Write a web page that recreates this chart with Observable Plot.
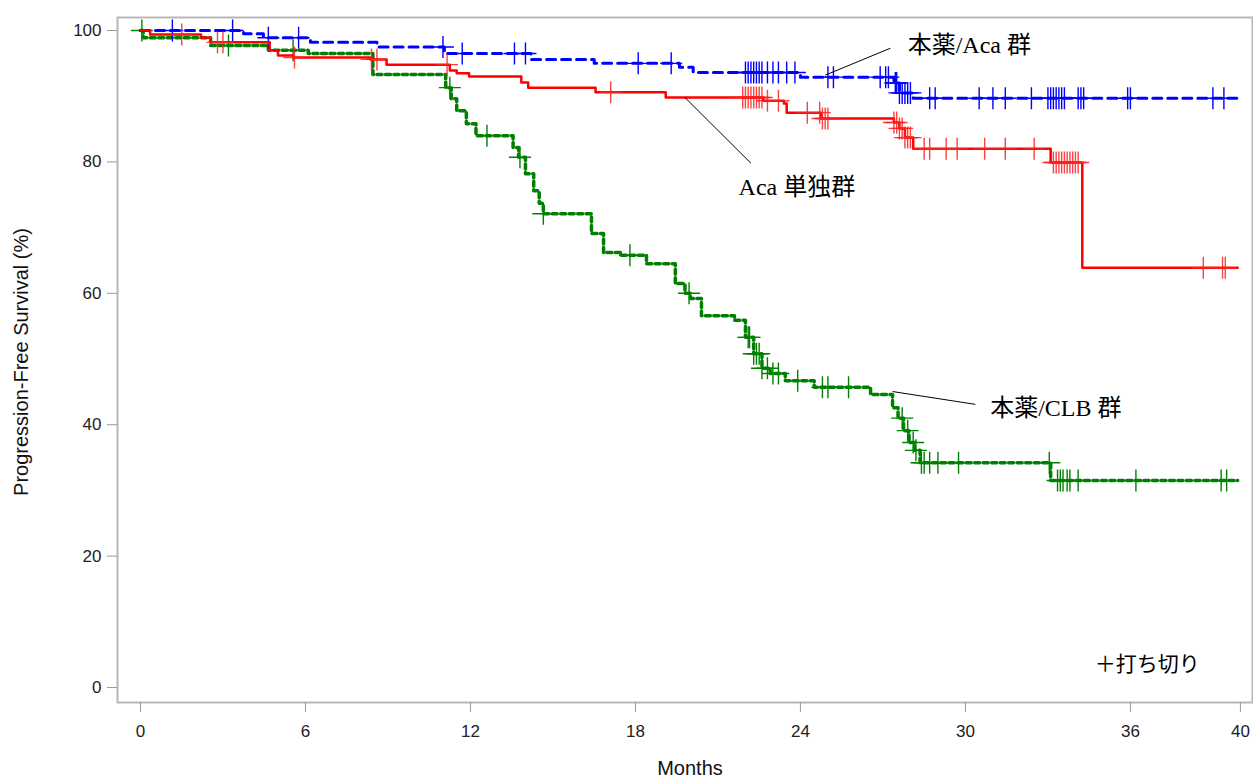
<!DOCTYPE html>
<html>
<head>
<meta charset="utf-8">
<script src="https://cdn.jsdelivr.net/npm/d3@7"></script>
<script src="https://cdn.jsdelivr.net/npm/@observablehq/plot@0.6"></script>
<style>
  html, body { margin: 0; padding: 0; background: #fff; }
</style>
</head>
<body>
<div id="chart"></div>
<script>
// ---- Data ----
const xTicks = [0, 6, 12, 18, 24, 30, 36, 40];
const yTicks = [0, 20, 40, 60, 80, 100];
const xLabel = "Months";
const yLabel = "Progression-Free Survival (%)";

// 本薬/Aca 群 (blue, dashed)
const blueTime = [0, 3.75, 4.47, 6.18, 8.6, 11.05, 14.2, 16.5, 19.6, 20.1, 24.0, 27.4, 27.6, 28.1, 39.9];
const blueSurv = [100, 99.5, 98.9, 98.2, 97.5, 96.5, 95.6, 95.0, 94.4, 93.6, 92.9, 92.0, 90.5, 89.7, 89.7];
const blueCens = [1.16, 3.35, 4.65, 5.75, 11.0, 11.7, 13.6, 14.0, 18.1, 19.3, 22.0, 22.1, 22.2, 22.3, 22.4, 22.5, 22.6, 22.8, 23.0, 23.2, 23.5, 23.8, 25.0, 25.2, 26.9, 27.1, 27.2, 27.45, 27.5, 27.6, 27.7, 27.8, 27.9, 28.0, 28.7, 28.9, 30.5, 31.0, 31.45, 32.4, 33.0, 33.1, 33.2, 33.3, 33.4, 33.5, 33.6, 34.1, 34.2, 34.3, 35.9, 36.0, 39.0, 39.4];

// Aca 単独群 (red, solid)
const redTime = [0, 0.35, 2.2, 2.55, 4.7, 5.0, 5.55, 8.35, 8.95, 11.25, 11.5, 11.95, 13.85, 14.1, 16.55, 19.1, 22.65, 23.4, 23.5, 24.75, 27.4, 27.6, 27.8, 28.1, 33.1, 34.25, 39.9];
const redSurv = [100, 99.4, 98.9, 98.2, 97.0, 96.2, 95.9, 95.6, 94.8, 93.9, 93.5, 93.0, 92.1, 91.3, 90.6, 89.8, 89.3, 88.9, 87.5, 86.6, 86.0, 85.1, 83.7, 82.0, 79.9, 63.9, 63.9];
const redCens = [1.5, 2.8, 3.0, 5.6, 8.4, 8.6, 11.15, 17.1, 21.9, 22.0, 22.1, 22.2, 22.3, 22.4, 22.5, 22.6, 22.8, 23.2, 24.25, 24.7, 24.8, 24.9, 25.0, 27.4, 27.5, 27.6, 27.7, 27.8, 27.9, 28.0, 28.5, 28.7, 29.3, 29.7, 30.7, 31.45, 32.5, 33.2, 33.3, 33.4, 33.5, 33.6, 33.7, 33.8, 33.9, 34.0, 34.1, 38.65, 39.35, 39.45];

// 本薬/CLB 群 (green, dotted)
const greenTime = [0, 0.1, 2.55, 4.65, 6.1, 8.45, 11.1, 11.3, 11.5, 11.85, 12.2, 13.55, 13.75, 14.0, 14.3, 14.5, 14.65, 16.4, 16.84, 17.45, 18.4, 19.45, 19.8, 20.0, 20.4, 21.6, 22.0, 22.3, 22.6, 22.9, 23.45, 24.5, 26.55, 27.35, 27.55, 27.75, 27.95, 28.15, 28.35, 33.1, 39.9];
const greenSurv = [100, 98.9, 97.7, 97.0, 96.5, 93.3, 91.3, 89.6, 87.8, 85.8, 84.0, 82.2, 80.7, 78.2, 75.6, 73.7, 72.1, 69.1, 66.2, 65.8, 64.5, 61.5, 60.0, 59.2, 56.6, 55.9, 53.3, 50.8, 48.6, 47.8, 46.7, 45.7, 44.6, 42.6, 41.0, 39.1, 37.3, 36.1, 34.2, 31.5, 31.5];
const greenCens = [0.05, 3.2, 5.55, 11.25, 12.6, 13.8, 14.65, 17.8, 19.95, 22.1, 22.15, 22.3, 22.4, 22.5, 22.6, 22.8, 23.0, 23.2, 23.9, 24.8, 25.0, 25.75, 27.7, 27.9, 28.1, 28.2, 28.4, 28.5, 28.7, 29.0, 29.75, 33.05, 33.35, 33.45, 33.55, 33.7, 33.8, 34.1, 36.2, 39.3, 39.5];

// Annotations
const annoLabels = ["本薬/Aca 群", "Aca 単独群", "本薬/CLB 群"];
const annoX = [27.9, 21.75, 30.9];
const annoY = [97.7, 76.1, 42.5];
const leadX1 = [24.9, 19.8, 27.35];
const leadY1 = [93.2, 89.8, 45.05];
const leadX2 = [27.27, 22.2, 30.36];
const leadY2 = [97.3, 79.8, 43.1];
const censorLabel = "＋打ち切り";
const censorLabelX = [34.7];
const censorLabelY = [3.6];

// ---- Build tables ----
const mk = (t, s) => t.map((d, i) => ({t: d, s: s[i]}));
const blue = mk(blueTime, blueSurv);
const red = mk(redTime, redSurv);
const green = mk(greenTime, greenSurv);
function at(times, surv, x) {
  let v = surv[0];
  for (let i = 0; i < times.length; i++) if (times[i] <= x) v = surv[i];
  return v;
}
const cens = (c, t, s) => c.map(x => ({t: x, s: at(t, s, x)}));
const blueC = cens(blueCens, blueTime, blueSurv);
const redC = cens(redCens, redTime, redSurv);
const greenC = cens(greenCens, greenTime, greenSurv);

const annos = annoLabels.map((l, i) => ({l, x: annoX[i], y: annoY[i]}));
const leads = annoLabels.map((l, i) => ({x1: leadX1[i], y1: leadY1[i], x2: leadX2[i], y2: leadY2[i]}));

const thinPlus = {
  draw(context, size) {
    const r = Math.sqrt(size / Math.PI);
    context.moveTo(-r, 0); context.lineTo(r, 0);
    context.moveTo(0, -r); context.lineTo(0, r);
  }
};

const W = 1253, H = 780;
const mL = 117, mT = 17, mR = 1, mB = 78;

const plot = Plot.plot({
  width: W, height: H,
  marginLeft: mL, marginTop: mT, marginRight: mR, marginBottom: mB,
  style: {fontFamily: "'Liberation Sans', Arial, sans-serif", fontSize: "17px", background: "#fff"},
  x: {domain: [-0.836, 40.44]},
  y: {domain: [-2.28, 101.98]},
  marks: [
    Plot.frame({stroke: "#b8b8b8", strokeWidth: 2}),
    Plot.axisY({ticks: yTicks, tickSize: 10, tickPadding: 6, stroke: "#999", fill: "#222", label: null, fontSize: 17}),
    Plot.axisX({ticks: xTicks, tickSize: 10, tickPadding: 12, stroke: "#999", fill: "#222", label: null, fontSize: 17}),
    Plot.text([yLabel], {frameAnchor: "left", rotate: -90, dx: -96, dy: 2, textAnchor: "middle", lineAnchor: "middle",
      text: d => d, fontSize: 20, fill: "#111"}),
    Plot.text([xLabel], {frameAnchor: "bottom", dy: 66, dx: 5, textAnchor: "middle", lineAnchor: "middle",
      text: d => d, fontSize: 20, fill: "#111"}),
    Plot.line(green, {x: "t", y: "s", curve: "step-after", stroke: "#008000", strokeWidth: 3.5, strokeDasharray: "5,3.5"}),
    Plot.dot(greenC, {x: "t", y: "s", symbol: thinPlus, r: 11, stroke: "#008000", strokeWidth: 1.4, fill: "none"}),
    Plot.line(blue, {x: "t", y: "s", curve: "step-after", stroke: "#0000ff", strokeWidth: 3, strokeDasharray: "9,6"}),
    Plot.dot(blueC, {x: "t", y: "s", symbol: thinPlus, r: 11, stroke: "#0000ff", strokeWidth: 1.4, fill: "none"}),
    Plot.line(red, {x: "t", y: "s", curve: "step-after", stroke: "#ff0000", strokeWidth: 2.5}),
    Plot.dot(redC, {x: "t", y: "s", symbol: thinPlus, r: 11, stroke: "#ff2020", strokeWidth: 1.4, fill: "none", strokeOpacity: 0.85}),
    Plot.link(leads, {x1: "x1", y1: "y1", x2: "x2", y2: "y2", stroke: "#000", strokeWidth: 1}),
    Plot.text(annos, {x: "x", y: "y", text: "l", textAnchor: "start", fontSize: 24,
      fontFamily: "'Liberation Serif', 'Noto Sans CJK JP', serif", fill: "#000"}),
    Plot.text(censorLabelX, {x: d => d, y: (d, i) => censorLabelY[i], text: () => censorLabel, textAnchor: "start",
      fontSize: 21, fontFamily: "'Noto Sans CJK JP', sans-serif", fill: "#000"})
  ]
});
document.getElementById("chart").appendChild(plot);
</script>
</body>
</html>
